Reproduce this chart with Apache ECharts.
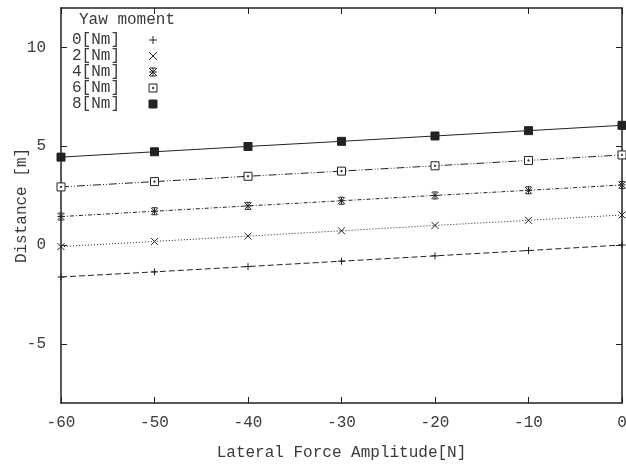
<!DOCTYPE html>
<html>
<head>
<meta charset="utf-8">
<script src="https://cdn.jsdelivr.net/npm/echarts@6/dist/echarts.min.js"></script>
<style>
  html, body { margin: 0; padding: 0; background: #fff; }
  #chart { width: 626px; height: 467px; }
</style>
</head>
<body>
<div id="chart"></div>
<script>
// Lateral force amplitude [N]
const forces = [-60, -50, -40, -30, -20, -10, 0];

// Distance [m] for each yaw moment
const yaw0 = [-1.62, -1.36, -1.09, -0.82, -0.55, -0.28, 0.00];
const yaw2 = [-0.08, 0.18, 0.45, 0.72, 0.99, 1.25, 1.52];
const yaw4 = [1.44, 1.71, 1.98, 2.24, 2.51, 2.77, 3.04];
const yaw6 = [2.94, 3.21, 3.48, 3.74, 4.01, 4.28, 4.56];
const yaw8 = [4.45, 4.72, 4.99, 5.25, 5.52, 5.79, 6.06];

const seriesNames = ['0[Nm]', '2[Nm]', '4[Nm]', '6[Nm]', '8[Nm]'];
const yTicks = [-5, 0, 5, 10];

const FONT = 'Liberation Mono';
const INK = '#222';
const TXT = '#3a3a3a';

const markers = [
  { symbol: 'path://M0,4L8,4M4,0L4,8', size: 7, fill: 'none', dash: [6, 3] },
  { symbol: 'path://M0,0L8,8M8,0L0,8', size: 7, fill: 'none', dash: [1, 2] },
  { symbol: 'path://M0,0L8,8M8,0L0,8M4,0L4,8M0,4L8,4M1,0L7,0M1,8L7,8', size: 7, fill: 'none', dash: [4, 2, 1, 2] },
  { symbol: 'path://M0,0L8,0L8,8L0,8ZM3.4,3.4L4.6,3.4L4.6,4.6L3.4,4.6Z', size: 8, fill: '#fff', dash: [8, 2, 1, 2, 1, 2] },
  { symbol: 'rect', size: 8, fill: INK, dash: 'solid' }
];
const values = [yaw0, yaw2, yaw4, yaw6, yaw8];

const series = values.map((v, i) => ({
  name: seriesNames[i],
  type: 'line',
  data: forces.map((f, k) => [f, v[k]]),
  symbol: markers[i].symbol,
  symbolSize: markers[i].size,
  showAllSymbol: true,
  clip: false,
  animation: false,
  lineStyle: { color: INK, width: 1, type: markers[i].dash },
  itemStyle: {
    color: markers[i].fill,
    borderColor: INK,
    borderWidth: 1
  },
  emphasis: { disabled: true }
}));

const frameLine = { show: true, onZero: false, lineStyle: { color: INK, width: 1.5 } };
const tickIn = { show: true, inside: true, length: 6, lineStyle: { color: INK, width: 1 } };
const labelFont = { fontFamily: FONT, fontSize: 16, color: TXT };

const option = {
  backgroundColor: '#fff',
  animation: false,
  title: {
    text: 'Yaw moment',
    left: 79,
    top: 12,
    padding: 0,
    textStyle: { fontFamily: FONT, fontSize: 16, fontWeight: 'normal', color: TXT }
  },
  legend: {
    orient: 'vertical',
    left: 72,
    top: 32,
    padding: 0,
    itemGap: 0,
    itemWidth: 8,
    itemHeight: 8,
    align: 'right',
    selectedMode: false,
    textStyle: { fontFamily: FONT, fontSize: 16, color: TXT, lineHeight: 16, padding: [0, 24, 0, 0] },
    data: seriesNames.map((n, i) => ({
      name: n,
      icon: markers[i].symbol,
      itemStyle: { color: markers[i].fill, borderColor: INK, borderWidth: 1 }
    }))
  },
  grid: { left: 61, right: 4, top: 8, bottom: 64, containLabel: false, outerBoundsMode: 'none' },
  xAxis: [
    {
      type: 'value', min: -60, max: 0, interval: 10, position: 'bottom',
      name: 'Lateral Force Amplitude[N]', nameLocation: 'middle', nameGap: 42,
      nameMoveOverlap: false,
      nameTextStyle: labelFont,
      axisLine: frameLine, axisTick: tickIn,
      axisLabel: Object.assign({ margin: 12 }, labelFont),
      splitLine: { show: false }
    },
    {
      type: 'value', min: -60, max: 0, interval: 10, position: 'top',
      axisLine: frameLine, axisTick: tickIn,
      axisLabel: { show: false }, splitLine: { show: false }
    }
  ],
  yAxis: [
    {
      type: 'value', min: -8, max: 12, position: 'left',
      name: 'Distance [m]', nameLocation: 'middle', nameGap: 31, nameRotate: 90,
      nameMoveOverlap: false,
      nameTextStyle: labelFont,
      axisLine: frameLine,
      axisTick: Object.assign({ customValues: yTicks }, tickIn),
      axisLabel: Object.assign({ margin: 15, customValues: yTicks }, labelFont),
      splitLine: { show: false }
    },
    {
      type: 'value', min: -8, max: 12, position: 'right',
      axisLine: frameLine,
      axisTick: Object.assign({ customValues: yTicks }, tickIn),
      axisLabel: { show: false, customValues: yTicks },
      splitLine: { show: false }
    }
  ],
  series: series
};

const chart = echarts.init(document.getElementById('chart'), null, { renderer: 'canvas' });
chart.setOption(option);
</script>
</body>
</html>
